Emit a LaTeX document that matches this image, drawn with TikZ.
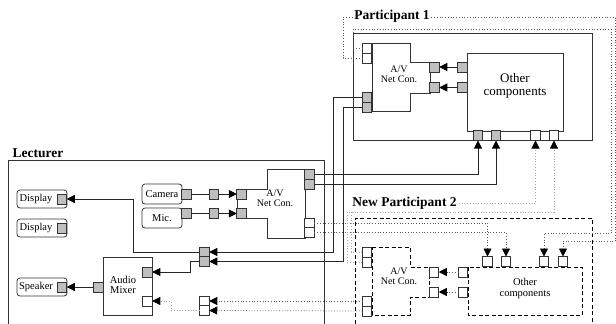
\documentclass[tikz,border=0pt]{standalone}
\usepackage{fontspec}
\setmainfont{Liberation Serif}
\usetikzlibrary{arrows.meta}
\begin{document}
\begin{tikzpicture}[x=1pt,y=-1pt,
  port/.style={draw=black!80, line width=0.7pt, minimum width=9.5pt, minimum height=10pt, inner sep=0pt, outer sep=0pt},
  gport/.style={port, fill=black!25},
  wport/.style={port, fill=white},
  conn/.style={line width=0.75pt, black!85},
  dconn/.style={line width=0.75pt, black!65, dotted},
  lconn/.style={line width=0.8pt, black!35, dotted},
  tip/.style={-{Triangle[length=8pt,width=8pt,color=black,fill=black]}},
  frame/.style={line width=1pt, black!80},
  dframe/.style={line width=1pt, black, dash pattern=on 4pt off 2.5pt},
  comp/.style={line width=0.8pt, black!80},
  dcomp/.style={line width=0.9pt, black, dash pattern=on 4pt off 2.5pt},
  rbox/.style={draw=black!80, line width=0.8pt, rounded corners=3pt},
  lab/.style={font=\fontsize{10}{10}\selectfont, align=center, inner sep=0pt},
  title/.style={font=\fontsize{13.5}{15}\selectfont\bfseries, inner sep=1pt}
]
\useasboundingbox (0,0) rectangle (616,324);

% ---------- frames ----------
\draw[frame] (353,33) rectangle (592,140);
\draw[frame] (8,330) -- (8,160) -- (324,160) -- (324,330);
\draw[dframe] (355,330) -- (355,218) -- (592,218) -- (592,330);

% ---------- Participant 1 components ----------
\draw[comp] (372,43) -- (410,43) -- (410,62) -- (430,62) -- (430,93) -- (410,93) -- (410,111) -- (372,111) -- cycle;
\node[lab] (p1avt) at (399,74) {A/V\\Net Con.};
\draw[comp] (467,53) rectangle (563,131);
\node[lab, font=\fontsize{13}{12.5}\selectfont] (p1oct) at (515,86) {Other\\components};

\node[wport] (pA1) at (367,48) {};
\node[wport] (pA2) at (367,58) {};
\node[gport] (pA3) at (367,97) {};
\node[gport] (pA4) at (367,107) {};
\node[gport] (pA5) at (434.5,67) {};
\node[gport] (pA6) at (434.5,87.5) {};
\node[gport] (pO1) at (462.5,67) {};
\node[gport] (pO2) at (462.5,87.5) {};
\node[gport] (pO3) at (478,135.5) {};
\node[gport] (pO4) at (496,135.5) {};
\node[wport] (pO5) at (535.5,135.5) {};
\node[wport] (pO6) at (554,135.5) {};

% ---------- Lecturer components ----------
\draw[comp] (267,169) -- (305,169) -- (305,238) -- (267,238) -- (267,218) -- (237,218) -- (237,189) -- (267,189) -- cycle;
\node[lab] (lavt) at (275,198) {A/V\\Net Con.};
\node[rbox, minimum width=40pt, minimum height=20pt, inner sep=0pt, font=\fontsize{10.5}{11}\selectfont] (cam) at (162,194) {Camera};
\node[rbox, minimum width=40pt, minimum height=20pt, inner sep=0pt, font=\fontsize{10.5}{11}\selectfont] (mic) at (162,218) {Mic.};
\draw[rbox] (17,190) rectangle (67,208);
\node[lab, font=\fontsize{10.5}{11}\selectfont] (d1t) at (36,199) {Display};
\draw[rbox] (17,219) rectangle (67,237);
\node[lab, font=\fontsize{10.5}{11}\selectfont] (d2t) at (36,228) {Display};
\draw[rbox] (17,278) rectangle (67,296);
\node[lab, font=\fontsize{10.5}{11}\selectfont] (spt) at (36,287) {Speaker};
\draw[comp] (103,257) rectangle (152,315);
\node[lab, font=\fontsize{10.5}{10.5}\selectfont] (amt) at (123,285) {Audio\\Mixer};

\node[gport] (lA1) at (241.5,194) {};
\node[gport] (lA2) at (241.5,213.5) {};
\node[gport] (lA3) at (309.5,174) {};
\node[gport] (lA4) at (309.5,184) {};
\node[wport] (lA5) at (309.5,223) {};
\node[wport] (lA6) at (309.5,232.5) {};
\node[gport] (cP) at (186.5,194) {};
\node[gport] (cI) at (214,194) {};
\node[gport] (mP) at (186.5,213.5) {};
\node[gport] (mI) at (214,213.5) {};
\node[gport] (d1P) at (62,199) {};
\node[gport] (d2P) at (62,228) {};
\node[gport] (sP) at (62,287) {};
\node[gport] (amL) at (98.5,287) {};
\node[gport] (amR1) at (147.5,272) {};
\node[wport] (amR2) at (147.5,301) {};
\node[gport] (r1) at (204.5,252) {};
\node[gport] (r2) at (204.5,261.5) {};
\node[wport] (r3) at (204.5,301) {};
\node[wport] (r4) at (204.5,310.5) {};

% ---------- New Participant 2 components ----------
\draw[dcomp] (372,247) -- (410,247) -- (410,267) -- (429,267) -- (429,297) -- (410,297) -- (410,315) -- (372,315) -- cycle;
\node[lab] (navt) at (399,276) {A/V\\Net Con.};
\draw[dcomp] (468,267) rectangle (582,315);
\node[lab, font=\fontsize{10.5}{11}\selectfont] (noct) at (525,288.5) {Other\\components};

\node[wport] (nA1) at (367,252) {};
\node[wport] (nA2) at (367,262) {};
\node[wport] (nA3) at (367,301) {};
\node[wport] (nA4) at (367,311) {};
\node[wport] (nA5) at (434,272) {};
\node[wport] (nA6) at (434,292) {};
\node[wport] (nO1) at (463,272) {};
\node[wport] (nO2) at (463,292) {};
\node[wport] (nO3) at (487.5,261.5) {};
\node[wport] (nO4) at (506,261.5) {};
\node[wport] (nO5) at (544,261.5) {};
\node[wport] (nO6) at (563,261.5) {};

% ---------- connections: solid ----------
\draw[conn, tip] (pO1.west) -- (pA5.east);
\draw[conn, tip] (pO2.west) -- (pA6.east);
\draw[conn, tip] (lA3.east) -| (pO3.south);
\draw[conn, tip] (lA4.east) -| (pO4.south);
\draw[conn, tip] (pA3.west) -- (333,97) |- (r1.east);
\draw[conn, tip] (pA4.west) -- (343,107) |- (r2.east);
\draw[conn, tip] (r1.west) -- (133,252) |- (d1P.east);
\draw[conn, tip] (r2.west) -- (190,261.5) |- (amR1.east);
\draw[conn, tip] (amL.west) -- (sP.east);
\draw[conn] (cP.east) -- (cI.west);
\draw[conn, tip] (cI.east) -- (lA1.west);
\draw[conn] (mP.east) -- (mI.west);
\draw[conn, tip] (mI.east) -- (lA2.west);

% ---------- connections: dotted ----------
\draw[dconn, tip] (lA5.east) -| (nO3.north);
\draw[dconn, tip] (lA6.east) -| (nO4.north);
\draw[dconn, tip] (pA1.west) -- (353,48) -- (353,29) -- (611,29) -- (611,233) -| (nO5.north);
\draw[dconn, tip] (pA2.west) -- (343,58) -- (343,17) -- (615,17) -- (615,241) -| (nO6.north);
\draw[lconn, tip] (nA1.west) -- (351,252) -- (351,203) -| (pO5.south);
\draw[lconn, tip] (nA2.west) -- (347,262) -- (347,212) -| (pO6.south);
\draw[dconn, tip] (nO1.west) -- (nA5.east);
\draw[dconn, tip] (nO2.west) -- (nA6.east);
\draw[dconn, tip] (nA3.west) -- (r3.east);
\draw[dconn, tip] (nA4.west) -- (r4.east);
\draw[lconn, tip] (r4.west) -- (171,310.5) |- (amR2.east);

% ---------- titles ----------
\node[title, fill=white] (p1t) at (392,16) {Participant 1};
\node[title] (lect) at (38,153) {Lecturer};
\node[title, fill=white] (np2t) at (404.5,203) {New Participant 2};
\end{tikzpicture}
\end{document}
